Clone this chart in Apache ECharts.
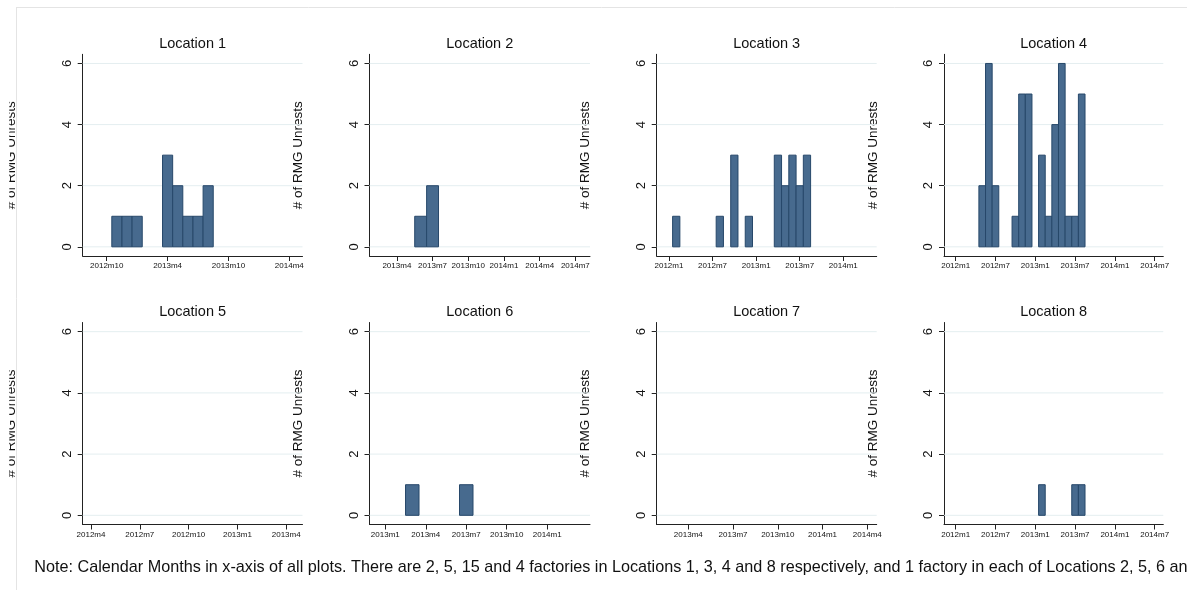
<!DOCTYPE html>
<html>
<head>
<meta charset="utf-8">
<script src="https://cdn.jsdelivr.net/npm/echarts@6/dist/echarts.min.js"></script>
<style>
html,body{margin:0;padding:0;background:#fff;}
#chart{width:1187px;height:590px;}
</style>
</head>
<body>
<div id="chart"></div>
<script>
// ---- data ----
const titles = ['Location 1','Location 2','Location 3','Location 4','Location 5','Location 6','Location 7','Location 8'];
const yTitle = '# of RMG Unrests';
const yTicks = [0, 2, 4, 6];

const loc1Months = ['2012m11','2012m12','2013m1','2013m4','2013m5','2013m6','2013m7','2013m8'];
const loc1Values = [1,1,1,3,2,1,1,2];
const loc1Ticks = ['2012m10','2013m4','2013m10','2014m4'];

const loc2Months = ['2013m6','2013m7'];
const loc2Values = [1,2];
const loc2Ticks = ['2013m4','2013m7','2013m10','2014m1','2014m4','2014m7'];

const loc3Months = ['2012m2','2012m8','2012m10','2012m12','2013m4','2013m5','2013m6','2013m7','2013m8'];
const loc3Values = [1,1,3,1,3,2,3,2,3];
const loc3Ticks = ['2012m1','2012m7','2013m1','2013m7','2014m1'];

const loc4Months = ['2012m5','2012m6','2012m7','2012m10','2012m11','2012m12','2013m2','2013m3','2013m4','2013m5','2013m6','2013m7','2013m8'];
const loc4Values = [2,6,2,1,5,5,3,1,4,6,1,1,5];
const loc4Ticks = ['2012m1','2012m7','2013m1','2013m7','2014m1','2014m7'];

const loc5Months = [];
const loc5Values = [];
const loc5Ticks = ['2012m4','2012m7','2012m10','2013m1','2013m4'];

const loc6Months = ['2013m3','2013m7'];
const loc6Values = [1,1];
const loc6Ticks = ['2013m1','2013m4','2013m7','2013m10','2014m1'];

const loc7Months = [];
const loc7Values = [];
const loc7Ticks = ['2013m4','2013m7','2013m10','2014m1','2014m4'];

const loc8Months = ['2013m2','2013m7','2013m8'];
const loc8Values = [1,1,1];
const loc8Ticks = ['2012m1','2012m7','2013m1','2013m7','2014m1','2014m7'];

const noteText = 'Note: Calendar Months in x-axis of all plots. There are 2, 5, 15 and 4 factories in Locations 1, 3, 4 and 8 respectively, and 1 factory in each of Locations 2, 5, 6 and 7.';

// ---- helpers ----
function mIdx(s){ const p = s.split('m'); return (+p[0] - 2012) * 12 + (+p[1] - 1); }
function mName(i){ const y = 2012 + Math.floor(i / 12); const m = ((i % 12) + 12) % 12 + 1; return y + 'm' + m; }

const panelData = [
  [loc1Months, loc1Values, loc1Ticks],
  [loc2Months, loc2Values, loc2Ticks],
  [loc3Months, loc3Values, loc3Ticks],
  [loc4Months, loc4Values, loc4Ticks],
  [loc5Months, loc5Values, loc5Ticks],
  [loc6Months, loc6Values, loc6Ticks],
  [loc7Months, loc7Values, loc7Ticks],
  [loc8Months, loc8Values, loc8Ticks]
];

// layout (pixels) and axis ranges (month index, 0 = 2012m1)
const colLeft = [82.7, 369.5, 656.7, 944];
const colWidth = [219.8, 220.5, 220, 219.3];
const rowTop = [54.3, 322.5];
const rowHeight = [201.7, 202];
const xRanges = [[6.63,28.30],[12.70,31.23],[-1.69,28.6],[-1.76,31.3],[2.49,16.0],[10.83,27.17],[12.88,27.63],[-1.76,31.3]];

const FONT = 'Liberation Sans, Arial, Helvetica, sans-serif';
const BAR_FILL = '#476a8e';
const BAR_EDGE = '#27486a';
const AXIS_COL = '#222';
const GRID_COL = '#e4eef0';

const grid = [], xAxis = [], yAxis = [], series = [], graphic = [];

panelData.forEach(function(pd, i){
  const r = Math.floor(i / 4), c = i % 4;
  grid.push({left: colLeft[c], top: rowTop[r], width: colWidth[c], height: rowHeight[r], containLabel: false});
  const tickIdx = pd[2].map(mIdx);
  xAxis.push({
    type: 'value', gridIndex: i, min: xRanges[i][0], max: xRanges[i][1],
    axisLine: {show: true, onZero: false, lineStyle: {color: AXIS_COL, width: 1}},
    axisTick: {show: true, length: 5, customValues: tickIdx, lineStyle: {color: AXIS_COL}},
    axisLabel: {show: true, customValues: tickIdx, formatter: function(v){ return mName(Math.round(v)); },
      fontSize: 8, color: '#111', fontFamily: FONT, margin: 6, hideOverlap: false},
    splitLine: {show: false}
  });
  yAxis.push({
    type: 'value', gridIndex: i, min: -0.3, max: 6.3,
    name: yTitle, nameLocation: 'middle', nameGap: 64, nameRotate: 90,
    nameTextStyle: {fontSize: 13.5, color: '#111', fontFamily: FONT},
    axisLine: {show: true, onZero: false, lineStyle: {color: AXIS_COL, width: 1}},
    axisTick: {show: true, length: 5, customValues: yTicks, lineStyle: {color: AXIS_COL}},
    axisLabel: {show: true, customValues: yTicks, rotate: 90, fontSize: 13, color: '#111', fontFamily: FONT, margin: 9},
    splitLine: {show: false}
  });
  // gridlines
  series.push({
    type: 'custom', xAxisIndex: i, yAxisIndex: i, silent: true, z: 1,
    data: yTicks.map(function(t){ return [xRanges[i][0], t]; }),
    renderItem: function(params, api){
      const cs = params.coordSys;
      const y = api.coord([xRanges[i][0], api.value(1)])[1];
      return {type: 'line', shape: {x1: cs.x, y1: y, x2: cs.x + cs.width, y2: y},
        style: {stroke: GRID_COL, lineWidth: 1}};
    }
  });
  // bars
  series.push({
    type: 'custom', xAxisIndex: i, yAxisIndex: i, z: 3,
    data: pd[0].map(function(m, k){ return [mIdx(m), pd[1][k]]; }),
    renderItem: function(params, api){
      const x = api.value(0), v = api.value(1);
      const p0 = api.coord([x - 0.5, v]);
      const p1 = api.coord([x + 0.5, 0]);
      return {type: 'rect', shape: {x: p0[0], y: p0[1], width: p1[0] - p0[0], height: p1[1] - p0[1]},
        style: {fill: BAR_FILL, stroke: BAR_EDGE, lineWidth: 1}};
    }
  });
  // panel title
  graphic.push({type: 'text', x: colLeft[c] + colWidth[c] / 2, y: r === 0 ? 44 : 312.3, z: 10,
    style: {text: titles[i], fontSize: 14.5, fontFamily: FONT, fill: '#111', textAlign: 'center', textVerticalAlign: 'middle'}});
});

// outer frame lines
graphic.push({type: 'line', shape: {x1: 16, y1: 7.5, x2: 1187, y2: 7.5}, style: {stroke: '#e4e4e4', lineWidth: 1}, z: 0});
graphic.push({type: 'line', shape: {x1: 16.5, y1: 7.5, x2: 16.5, y2: 590}, style: {stroke: '#e4e4e4', lineWidth: 1}, z: 0});
// left edge cut-off of the first-column axis titles
graphic.push({type: 'rect', shape: {x: 0, y: 0, width: 9.3, height: 590}, style: {fill: '#fff'}, z: 100});
// note
graphic.push({type: 'text', x: 34.3, y: 568, z: 10,
  style: {text: noteText, fontSize: 16.2, fontFamily: FONT, fill: '#111', textAlign: 'left', textVerticalAlign: 'middle'}});

const chart = echarts.init(document.getElementById('chart'), null, {renderer: 'canvas'});
chart.setOption({
  animation: false,
  backgroundColor: '#fff',
  grid: grid, xAxis: xAxis, yAxis: yAxis, series: series, graphic: graphic
});
</script>
</body>
</html>
